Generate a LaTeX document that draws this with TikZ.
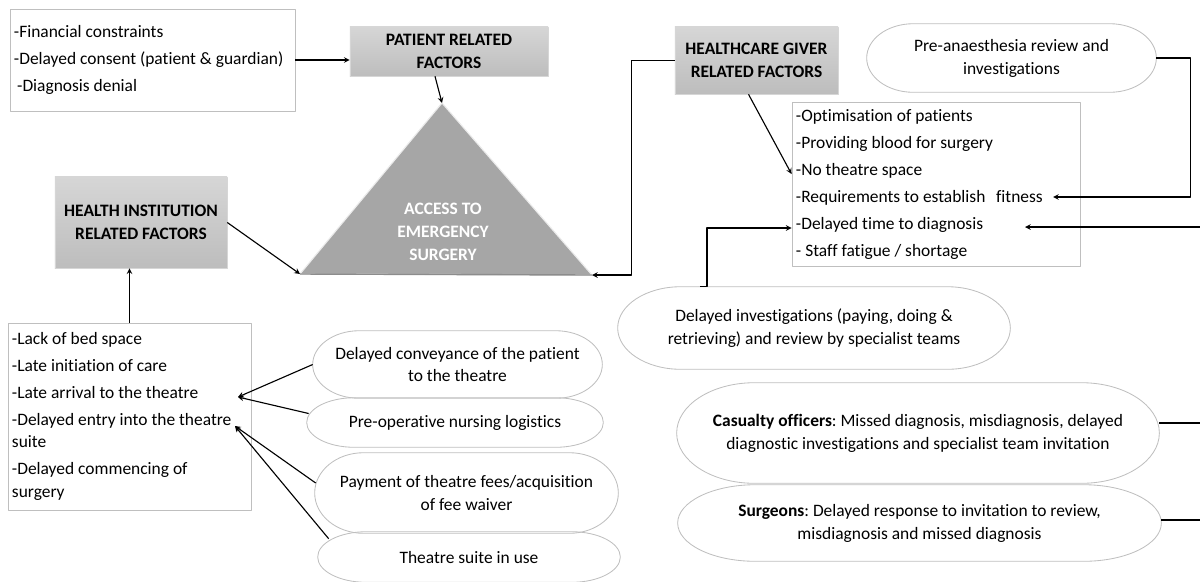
\documentclass[tikz,border=0pt]{standalone}
\usepackage{fontspec}
\setmainfont{Carlito}[Ligatures=NoCommon]
\usetikzlibrary{calc}
\definecolor{boxline}{HTML}{BFBFBF}
\definecolor{factortop}{HTML}{D6D6D6}
\definecolor{factorbot}{HTML}{BDBDBD}
\definecolor{accessfill}{HTML}{A6A6A6}
\tikzset{
  listbox/.style={draw=boxline, fill=white, line width=0.6pt, inner sep=0pt, inner xsep=0.1cm, align=flush left,
    font=\fontsize{12.4}{19.2}\selectfont},
  factor/.style={top color=factortop, bottom color=factorbot, draw=factortop, inner sep=0pt, align=center,
    font=\fontsize{12.4}{16.3}\selectfont\bfseries},
  term/.style={inner sep=0pt, align=center, font=\fontsize{12.4}{16.3}\selectfont},
  termline/.style={draw=boxline, line width=0.6pt},
  link/.style={line width=0.8pt}
}
\begin{document}
\frenchspacing
\begin{tikzpicture}[x=0.025cm, y=-0.025cm, >=stealth, line join=round]
\useasboundingbox (0,0) rectangle (1200,581);

% factor boxes and lists
\node[listbox, text width=6.925cm, minimum height=2.55cm] (pfact) at (152.5,60)
  {-Financial constraints\\-Delayed consent (patient \& guardian)\\\hspace{0.08cm}-Diagnosis denial};
\node[factor, minimum width=4.95cm, minimum height=1.225cm] (patient) at (449,51.5) {PATIENT RELATED\\FACTORS};
\node[factor, minimum width=4.3cm, minimum height=2.275cm] (hinst) at (141,222.5) {HEALTH INSTITUTION\\RELATED FACTORS};
\node[factor, minimum width=4.075cm, minimum height=1.675cm] (hcg) at (756.5,60.5) {HEALTHCARE GIVER\\RELATED FACTORS};
\node[listbox, text width=5.875cm, minimum height=4.675cm, font=\fontsize{12.4}{16.3}\selectfont] (hilist) at (129.5,416.5)
  {-Lack of bed space\\[2.8pt]-Late initiation of care\\[2.8pt]-Late arrival to the theatre\\[2.8pt]-Delayed entry into the theatre\\suite\\[2.8pt]-Delayed commencing of\\surgery};
\node[listbox, text width=7cm, minimum height=4.1cm] (hcglist) at (936,184)
  {-Optimisation of patients\\-Providing blood for surgery\\-No theatre space\\-Requirements to establish\hspace{0.17cm} fitness\\-Delayed time to diagnosis\\- Staff fatigue / shortage};

% the triangle
\path (442,103) coordinate (apex) (300,274) coordinate (lc) (592,275) coordinate (rc);
\draw[fill=accessfill, draw=black!8, line width=0.8pt] (apex) -- (lc) -- (rc) -- cycle;
\draw[black!45, line width=1pt] (lc) -- (rc);
\node[align=center, text=white, font=\fontsize{12.4}{16.3}\selectfont\bfseries] (access) at (443,231.5) {ACCESS TO\\EMERGENCY\\SURGERY};

% terminators
\node[term, minimum width=7.225cm, minimum height=1.7cm] (preana) at (1011.5,58) {Pre-anaesthesia review and\\investigations};
\node[term, minimum width=9.8cm, minimum height=2.05cm] (delinv) at (814,328)
  {Delayed investigations (paying, doing \&\\retrieving) and review by specialist teams};
\node[term, minimum width=12.05cm, minimum height=2.5cm] (casualty) at (918,433)
  {\textbf{Casualty officers}: Missed diagnosis, misdiagnosis, delayed\\diagnostic investigations and specialist team invitation};
\node[term, minimum width=12.075cm, minimum height=1.9cm] (surgeons) at (919.5,523)
  {\textbf{Surgeons}: Delayed response to invitation to review,\\misdiagnosis and missed diagnosis};
\node[term, minimum width=7.225cm, minimum height=1.675cm] (conv) at (457.5,364.5) {Delayed conveyance of the patient\\to the theatre};
\node[term, minimum width=7.4cm, minimum height=1.225cm] (preop) at (455,422.5) {Pre-operative nursing logistics};
\node[term, minimum width=7.575cm, minimum height=2cm] (payment) at (466.5,493) {Payment of theatre fees/acquisition\\of fee waiver};
\node[term, minimum width=7.55cm, minimum height=1.25cm] (suite) at (469,557) {Theatre suite in use};

\foreach \nm in {preana,delinv,casualty,surgeons,conv,preop,payment,suite}
  \draw[termline] let \p1=(\nm.north east), \p2=(\nm.south west), \n1={0.161*(\x1-\x2)}, \n2={(\y1-\y2)/2} in
    (\x2+\n1,\y1) -- (\x1-\n1,\y1) arc[start angle=90, end angle=-90, x radius=\n1, y radius=\n2]
    -- (\x2+\n1,\y2) arc[start angle=-90, end angle=-270, x radius=\n1, y radius=\n2] -- cycle;

% connectors
\path (1053,197) coordinate (fitness) (1025,227) coordinate (diagnosis) (1200,227) coordinate (rightin)
  (1200,423) coordinate (rightcas) (1200,520) coordinate (rightsur)
  (238,397) coordinate (arrival) (235,426) coordinate (entry);
\draw[link,->] (pfact.east) -- (pfact.east -| patient.west);
\draw[link,->] ($(patient.south)+(-14,0)$) -- (apex);
\draw[link,->] (hinst.east) -- (lc);
\draw[link,->] (hilist.north) -- (hilist.north |- hinst.south);
\draw[link,->] (hcg.west) -- ++(-43,0) |- (rc);
\draw[link,->] ($(hcg.south)+(-8,0)$) -- ($(hcglist.west)+(0,-10)$);
\draw[link,->] (preana.east) -- ++(34,0) |- (fitness);
\draw[link,->] (rightin) -- (diagnosis);
\draw[link,->] ($(delinv.north)+(-114,0)$) -- ++(7,0) |- ($(hcglist.west)+(0,44)$);
\draw[link,->] (conv.west) -- (arrival);
\draw[link,->] ($(preop.west)+(2,-9)$) -- (arrival);
\draw[link,->] ($(payment.west)+(1,-10)$) -- (entry);
\draw[link,->] ($(suite.north west)+(11,7)$) -- (entry);
\draw[link] (casualty.east |- rightcas) -- (rightcas);
\draw[link] (surgeons.east |- rightsur) -- (rightsur);
\end{tikzpicture}
\end{document}
